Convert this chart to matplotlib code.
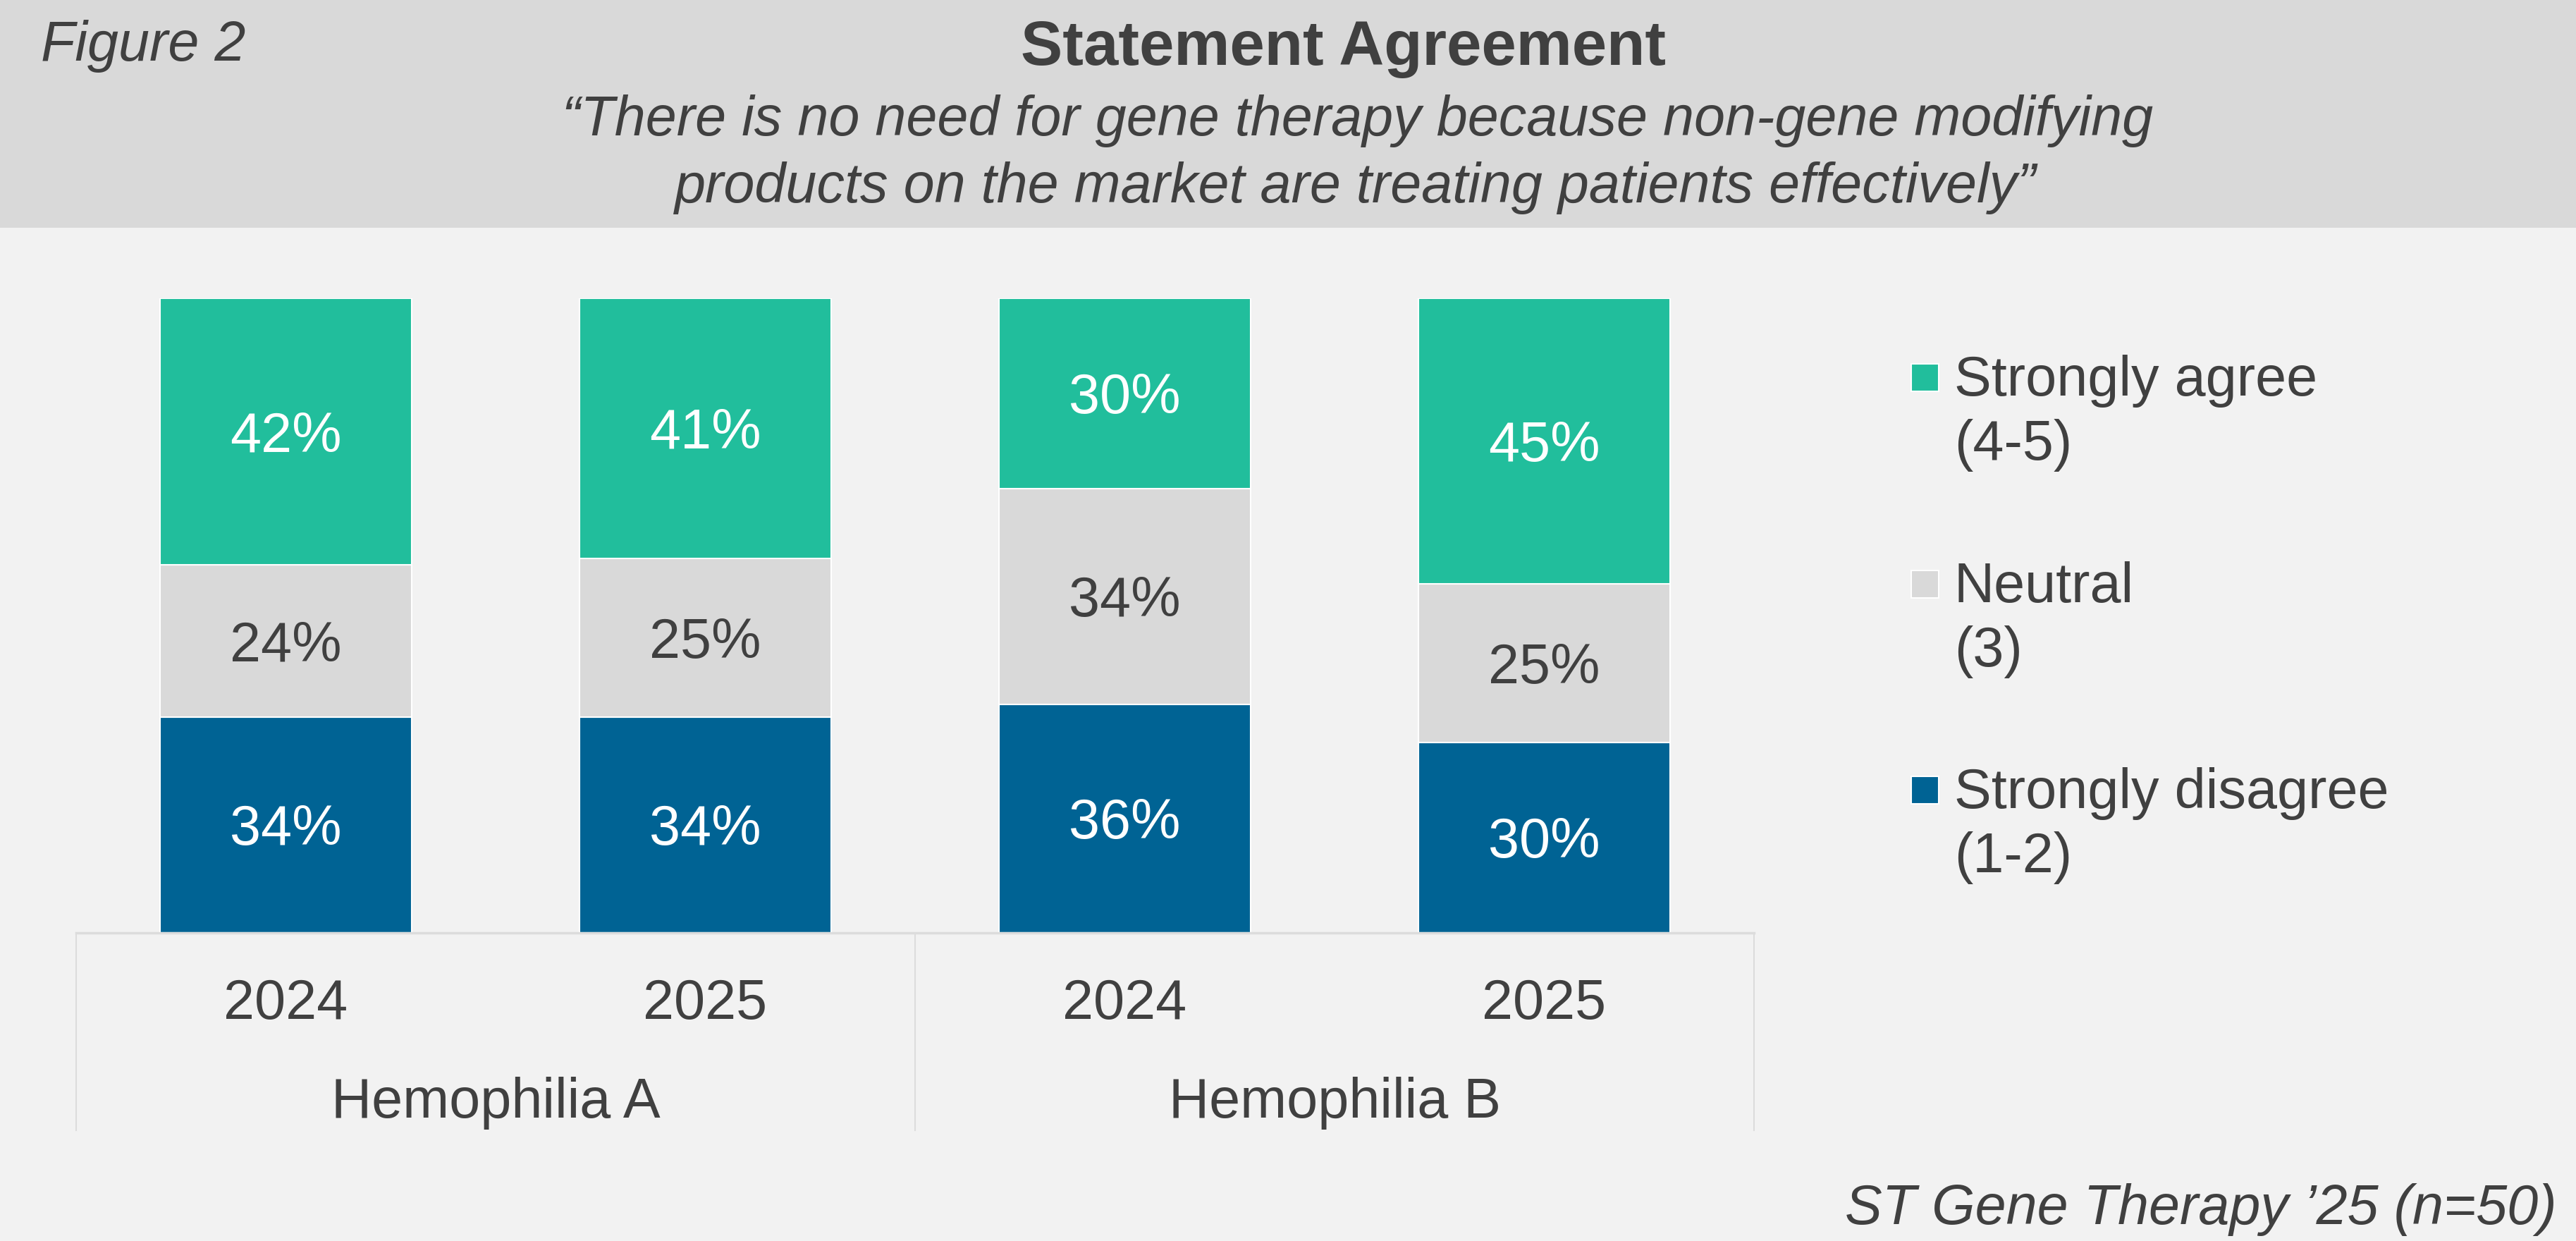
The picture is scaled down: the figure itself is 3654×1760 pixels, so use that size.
import matplotlib
matplotlib.use("Agg")
import matplotlib.pyplot as plt
from matplotlib.patches import Rectangle
from matplotlib.lines import Line2D
import matplotlib.transforms as mtransforms

# ---------------- data ----------------
groups = ["Hemophilia A", "Hemophilia B"]
years = ["2024", "2025", "2024", "2025"]
strongly_disagree = [34, 34, 36, 30]
neutral = [24, 25, 34, 25]
strongly_agree = [42, 41, 30, 45]
legend_labels = ["Strongly agree\n(4-5)", "Neutral\n(3)", "Strongly disagree\n(1-2)"]

title = "Statement Agreement"
subtitle = "\u201cThere is no need for gene therapy because non-gene modifying\nproducts on the market are treating patients effectively\u201d"
fig_label = "Figure 2"
source = "ST Gene Therapy \u201925 (n=50)"

# ---------------- style ----------------
W, H = 3655, 1760
DPI = 100
C_GREEN = "#21BE9C"
C_GRAY = "#D9D9D9"
C_BLUE = "#006394"
C_TEXT = "#404040"
BG = "#F2F2F2"
FS = 57

plt.rcParams['font.family'] = ['Liberation Sans', 'DejaVu Sans']

fig = plt.figure(figsize=(W / DPI, H / DPI), dpi=DPI, facecolor=BG)

def fx(px):
    return px / W

def fy(py):
    return 1 - py / H

# header band
fig.patches.append(Rectangle((0, fy(323)), 1, 1 - fy(323), transform=fig.transFigure,
                             facecolor=C_GRAY, edgecolor='none', zorder=0))

fig.text(fx(58), fy(86), fig_label, fontsize=FS, style='italic', color=C_TEXT,
         ha='left', va='baseline')
fig.text(fx(1906), fy(92), title, fontsize=64, fontweight='bold', color=C_TEXT,
         ha='center', va='baseline')
sub_lines = subtitle.split("\n")
fig.text(fx(1926), fy(192), sub_lines[0], fontsize=FS, style='italic', color=C_TEXT,
         ha='center', va='baseline')
fig.text(fx(1923), fy(287), sub_lines[1], fontsize=FS, style='italic', color=C_TEXT,
         ha='center', va='baseline')

# axes
ax_left, ax_right, ax_top, ax_bot = 108, 2488, 423, 1323
ax = fig.add_axes([fx(ax_left), fy(ax_bot), (ax_right - ax_left) / W, (ax_bot - ax_top) / H])
ax.set_facecolor('none')
ax.set_xlim(-0.5, 3.5)
ax.set_ylim(0, 100)
ax.axis('off')

x = list(range(len(years)))
bw = 0.6
series = [(strongly_disagree, C_BLUE, 'white'),
          (neutral, C_GRAY, C_TEXT),
          (strongly_agree, C_GREEN, 'white')]
bottoms = [0] * len(x)
cap_half_pt = FS * 0.716 / 2
for vals, col, tcol in series:
    ax.bar(x, vals, bw, bottom=bottoms, color=col, edgecolor='white', linewidth=1.5)
    for xi, v, b in zip(x, vals, bottoms):
        ax.annotate(f"{v}%", xy=(xi, b + v / 2), xytext=(0, -cap_half_pt),
                    textcoords='offset points', ha='center', va='baseline',
                    fontsize=FS, color=tcol)
    bottoms = [b + v for b, v in zip(bottoms, vals)]

# category axis lines
lc = "#DCDCDC"
fig.add_artist(Line2D([fx(ax_left), fx(ax_right)], [fy(ax_bot), fy(ax_bot)],
                      transform=fig.transFigure, color=lc, lw=2.5))
for px in (ax_left, (ax_left + ax_right) / 2, ax_right):
    fig.add_artist(Line2D([fx(px), fx(px)], [fy(ax_bot), fy(1603)],
                          transform=fig.transFigure, color=lc, lw=1.5))

blend = mtransforms.blended_transform_factory(ax.transData, fig.transFigure)
for xi, yr in zip(x, years):
    ax.text(xi, fy(1445), yr, transform=blend, ha='center', va='baseline',
            fontsize=FS, color=C_TEXT, clip_on=False)
for gi, g in enumerate(groups):
    ax.text(gi * 2 + 0.5, fy(1585), g, transform=blend, ha='center', va='baseline',
            fontsize=FS, color=C_TEXT, clip_on=False)

# legend (manual)
leg_colors = [C_GREEN, C_GRAY, C_BLUE]
leg_base = [561, 854, 1146]
for lab, col, base in zip(legend_labels, leg_colors, leg_base):
    sq_top = base - 45
    fig.patches.append(Rectangle((fx(2711), fy(sq_top + 39)), 39 / W, 39 / H,
                                 transform=fig.transFigure, facecolor=col,
                                 edgecolor='white', linewidth=1.5))
    l1, l2 = lab.split("\n")
    fig.text(fx(2772), fy(base), l1, fontsize=FS, color=C_TEXT, ha='left', va='baseline')
    fig.text(fx(2772), fy(base + 91), l2, fontsize=FS, color=C_TEXT, ha='left', va='baseline')

fig.text(fx(3627), fy(1736), source, fontsize=FS, style='italic', color=C_TEXT,
         ha='right', va='baseline')

fig.savefig("out.png", dpi=DPI, facecolor=BG)
